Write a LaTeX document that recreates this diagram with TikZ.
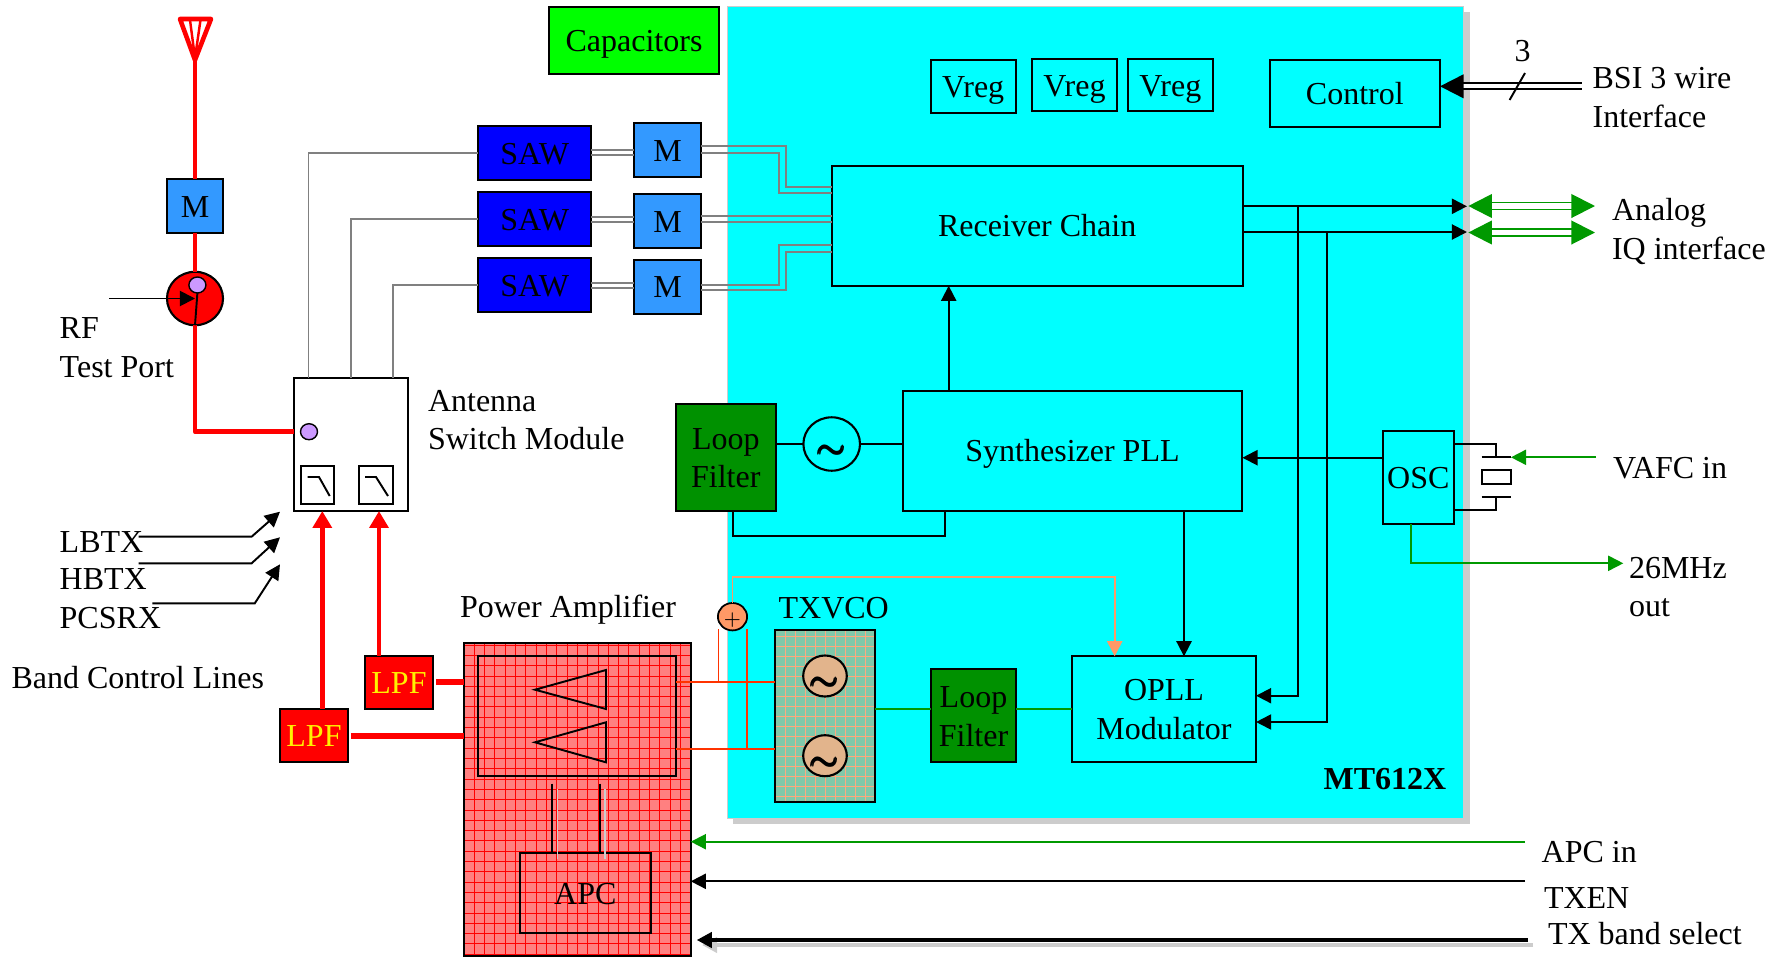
\documentclass[tikz,border=0pt]{standalone}
\usepackage{amsmath}
\usepackage{fontspec}
\setmainfont{Liberation Serif}
\usetikzlibrary{arrows.meta,calc,shapes.geometric}
\definecolor{mtcyan}{RGB}{0,255,255}
\definecolor{mtshade}{RGB}{204,204,204}
\definecolor{mblue}{RGB}{51,153,255}
\definecolor{loopgreen}{RGB}{0,145,0}
\definecolor{wiregreen}{RGB}{0,153,0}
\definecolor{wiregray}{RGB}{128,128,128}
\definecolor{dotpink}{RGB}{204,153,255}
\definecolor{papink}{RGB}{255,128,128}
\definecolor{vcoteal}{RGB}{128,200,170}
\definecolor{vcotan}{RGB}{226,180,140}
\definecolor{sumorange}{RGB}{255,153,102}
\definecolor{txred}{RGB}{255,51,0}
\tikzset{
  blockbox/.style={draw=black,line width=0.58pt,rectangle,inner sep=0pt,outer sep=0pt,align=center},
  oneline/.style={text height=6.3pt,text depth=0pt},
  twolines/.style={text height=17.2pt,text depth=0pt},
  sawbox/.style={blockbox,oneline,fill=blue,minimum width=1.134cm,minimum height=0.54cm},
  mbox/.style={blockbox,oneline,fill=mblue,minimum width=0.67cm,minimum height=0.54cm},
  lpfbox/.style={blockbox,oneline,fill=red,text=yellow,minimum width=0.68cm,minimum height=0.533cm},
  loopbox/.style={blockbox,twolines,fill=loopgreen},
  vregbox/.style={blockbox,oneline,minimum width=0.85cm,minimum height=0.526cm},
  filtbox/.style={blockbox,minimum width=0.335cm,minimum height=0.386cm},
  tune/.style={draw=black,line width=0.6pt,ellipse,inner sep=0pt,outer sep=0pt,minimum width=0.566cm,minimum height=0.534cm},
  portdot/.style={draw=black,line width=0.4pt,ellipse,fill=dotpink,inner sep=0pt,outer sep=0pt,minimum width=0.17cm,minimum height=0.16cm},
  lbl/.style={anchor=west,inner sep=0pt,outer sep=0pt,align=left},
  wire/.style={draw=black,line width=0.55pt},
  rfline/.style={draw=red,line width=1.3pt,line join=round},
  graywire/.style={draw=wiregray,line width=0.5pt},
  greenwire/.style={draw=wiregreen,line width=0.5pt},
  txwire/.style={draw=txred,line width=0.5pt},
  sumwire/.style={draw=sumorange,line width=0.55pt},
}
\newcommand{\wavetext}{\smash{\makebox[0pt]{\raisebox{-4.2pt}{\pmb{$\boldsymbol{\sim}$}}}}}
\newcommand{\sumtext}{\smash{\makebox[0pt]{\raisebox{-2.2pt}{$\scriptscriptstyle+$}}}}
\begin{document}
\begin{tikzpicture}[x=0.01cm,y=-0.01cm,font=\fontsize{9.1pt}{11pt}\selectfont,>={Triangle[length=4.3pt,width=4.3pt]}]
\useasboundingbox (0,0) rectangle (1778,957);
\node[rectangle,fill=mtshade,inner sep=0pt,minimum width=7.37cm,minimum height=8.12cm] (mtshadow) at (1101.5,418) {};
\node[rectangle,draw=mtshade,line width=0.35pt,fill=mtcyan,inner sep=0pt,minimum width=7.355cm,minimum height=8.11cm] (mt) at (1095.7,412.5) {};
\node[font=\bfseries\fontsize{9.1pt}{11pt}\selectfont,inner sep=0pt] (mtname) at (1385,779) {MT612X};

\node[blockbox,oneline,fill=green,minimum width=1.695cm,minimum height=0.664cm] (caps) at (634,40.5) {Capacitors};
\node[vregbox] (vrega) at (973.2,86.6) {Vreg};
\node[vregbox] (vregb) at (1074.5,85) {Vreg};
\node[vregbox] (vregc) at (1170.3,85) {Vreg};
\node[blockbox,oneline,minimum width=1.703cm,minimum height=0.667cm] (ctrl) at (1354.8,93.7) {Control};
\node[blockbox,oneline,minimum width=4.104cm,minimum height=1.197cm] (rx) at (1037.2,225.9) {Receiver Chain};
\node[blockbox,oneline,minimum width=3.396cm,minimum height=1.197cm] (synth) at (1072.5,450.9) {Synthesizer PLL};
\node[blockbox,twolines,minimum width=1.84cm,minimum height=1.057cm] (opll) at (1164,709.2) {OPLL\\Modulator};
\node[blockbox,oneline,minimum width=0.713cm,minimum height=0.933cm] (osc) at (1418.3,477.7) {OSC};
\node[loopbox,minimum width=0.997cm,minimum height=1.07cm] (lfa) at (725.8,457.5) {Loop\\Filter};
\node[loopbox,minimum width=0.857cm,minimum height=0.93cm] (lfb) at (973.5,715.8) {Loop\\Filter};
\node[tune] (vco) at (831.7,444) {\wavetext};

\node[blockbox,fill=vcoteal,minimum width=1cm,minimum height=1.726cm,
  path picture={\draw[sumorange!85!white,line width=0.15pt,step=0.1cm] (path picture bounding box.south west) grid (path picture bounding box.north east);}] (txvco) at (825,716) {};
\node[tune,fill=vcotan,minimum width=0.436cm,minimum height=0.41cm] (vcoa) at (825,676) {\wavetext};
\node[tune,fill=vcotan,minimum width=0.436cm,minimum height=0.41cm] (vcob) at (825,755.7) {\wavetext};
\node[lbl,anchor=center] (txvconame) at (833.7,607.8) {TXVCO};
\node[tune,fill=sumorange,minimum width=0.292cm,minimum height=0.274cm,line width=0.5pt] (sum) at (732.5,616.7) {\sumtext};

\node[blockbox,fill=papink,minimum width=2.27cm,minimum height=3.13cm,
  path picture={\draw[red,line width=0.18pt,step=0.103cm] (path picture bounding box.south west) grid (path picture bounding box.north east);}] (pa) at (577.2,799.5) {};
\node[blockbox,minimum width=1.983cm,minimum height=1.194cm] (ampbox) at (577.15,716) {};
\node[blockbox,oneline,minimum width=1.313cm,minimum height=0.797cm] (apc) at (585.35,893.2) {APC};
\draw[wire] (535,689.7) -- (606,670) -- (606,709) -- cycle;
\draw[wire] (535,742.3) -- (606,722.3) -- (606,762.3) -- cycle;
\draw[wire] (ampbox.south -| 552,0) ++(0,8) -- (apc.north -| 552,0);
\draw[wire] (ampbox.south -| 599.6,0) ++(0,8) -- (apc.north -| 599.6,0);
\draw[draw=mtshade,line width=0.4pt] (557.4,789) -- (557.4,859);
\draw[draw=mtshade,line width=0.4pt] (605,789) -- (605,859);

\node[lpfbox] (lpfa) at (399,682.7) {LPF};
\node[lpfbox] (lpfb) at (314,735.7) {LPF};

\node[blockbox,fill=white,minimum width=1.137cm,minimum height=1.33cm] (asm) at (350.9,444.5) {};
\node[portdot] (asmdot) at (309,431.7) {};
\node[filtbox] (filta) at (317.3,485) {};
\node[filtbox] (filtb) at (375.8,485) {};
\draw[wire] (307.6,477) -- (319,477) -- (329.7,496);
\draw[wire] (365,477) -- (376,477) -- (388,496);

\node[sawbox] (sawa) at (534.7,153.2) {SAW};
\node[sawbox] (sawb) at (534.7,219) {SAW};
\node[sawbox] (sawc) at (534.7,285.3) {SAW};
\node[mbox] (ma) at (667.5,150) {M};
\node[mbox] (mb) at (667.5,221.2) {M};
\node[mbox] (mc) at (667.5,286.7) {M};
\node[mbox,minimum width=0.566cm,minimum height=0.537cm] (mant) at (195,206) {M};
\node[tune,fill=red,minimum width=0.56cm,minimum height=0.534cm] (tport) at (195,298.5) {};

\draw[rfline] (180,19) -- (211,19) -- (195,60) -- cycle;
\draw[draw=red,line width=0.7pt] (190,20) -- (195,58) -- (200.5,20);
\coordinate (ant) at (195,60);
\draw[rfline] (ant) -- (mant.north);
\draw[rfline] (mant.south) -- (tport.north);
\draw[rfline] (tport.south) |- (asm.west |- asmdot);
\coordinate (rftest) at (109,298.5);
\draw[wire,->] (rftest) -- (tport.center);
\node[portdot] (tportdot) at (197.4,285) {};
\draw[wire] (tportdot.south) -- (tport.south);

\draw[graywire] (asm.north) ++(-42.4,0) |- (sawa.west);
\draw[graywire] (asm.north) |- (sawb.west);
\draw[graywire] (asm.north) ++(42.4,0) |- (sawc.west);
\draw[graywire,line width=0.6pt] (sawa.east |- 0,150) -- (ma.west |- 0,150);
\draw[graywire,line width=0.6pt] (sawa.east |- 0,155) -- (ma.west |- 0,155);
\draw[graywire,line width=0.6pt] (sawb.east |- 0,216.7) -- (mb.west |- 0,216.7);
\draw[graywire,line width=0.6pt] (sawb.east |- 0,221.7) -- (mb.west |- 0,221.7);
\draw[graywire,line width=0.6pt] (sawc.east |- 0,282.7) -- (mc.west |- 0,282.7);
\draw[graywire,line width=0.6pt] (sawc.east |- 0,287.7) -- (mc.west |- 0,287.7);
\draw[graywire] (ma.east |- 0,145.7) -| (786,186.7) -- (rx.west |- 0,186.7);
\draw[graywire] (ma.east |- 0,152.7) -| (778.7,192.7) -- (rx.west |- 0,192.7);
\draw[graywire,line width=0.6pt] (mb.east |- 0,216.3) -- (rx.west |- 0,216.3);
\draw[graywire,line width=0.6pt] (mb.east |- 0,221.7) -- (rx.west |- 0,221.7);
\draw[graywire] (mc.east |- 0,285) -| (778.7,245.3) -- (rx.west |- 0,245.3);
\draw[graywire] (mc.east |- 0,290.3) -| (786,251.7) -- (rx.west |- 0,251.7);

\draw[wire,->] (synth.north -| 948.7,0) -- (rx.south -| 948.7,0);
\draw[wire] (lfa.east |- vco) -- (vco.west);
\draw[wire] (vco.east) -- (synth.west |- vco);
\draw[wire] (lfa.south -| 732.7,0) |- (945,536) -- (synth.south -| 945,0);
\draw[wire,->] (synth.south -| 1184,0) -- (opll.north -| 1184,0);
\draw[wire,->] (osc.west |- 0,457.7) -- (synth.east |- 0,457.7);

\coordinate (iqa) at (1467,206.3);
\coordinate (iqb) at (1467,232);
\coordinate (tapa) at (1298.3,206.3);
\coordinate (tapb) at (1326.7,232);
\draw[wire,->] (rx.east |- iqa) -- (iqa);
\draw[wire,->] (rx.east |- iqb) -- (iqb);
\draw[wire,->] (tapa) |- (opll.east |- 0,695.7);
\draw[wire,->] (tapb) |- (opll.east |- 0,722);

\coordinate (iqouta) at (1595,206);
\coordinate (iqoutb) at (1595,232.5);
\coordinate (iqina) at (1468.3,206);
\coordinate (iqinb) at (1468.3,232.5);
\draw[draw=wiregreen,line width=0.55pt,double=white,double distance=1.45pt,{Triangle[length=6.7pt,width=6.7pt]}-{Triangle[length=6.7pt,width=6.7pt]}] (iqina) -- (iqouta);
\draw[draw=wiregreen,line width=0.55pt,double=white,double distance=1.45pt,{Triangle[length=6.7pt,width=6.7pt]}-{Triangle[length=6.7pt,width=6.7pt]}] (iqinb) -- (iqoutb);

\coordinate (bsi) at (1581.5,86.3);
\draw[draw=black,line width=0.55pt,double=white,double distance=1.15pt,-{Triangle[length=6.7pt,width=6.7pt]}] (bsi) -- (ctrl.east |- bsi);
\draw[wire] (1509.6,100) -- (1525,73);

\node[blockbox,minimum width=0.293cm,minimum height=0.137cm,line width=0.5pt] (xtal) at (1496.3,477.2) {};
\draw[wire] (xtal.west |- 0,457.3) -- (xtal.east |- 0,457.3);
\draw[wire] (xtal.west |- 0,497) -- (xtal.east |- 0,497);
\draw[wire] (osc.east |- 0,444) -| (xtal.north |- 0,457.3);
\draw[wire] (osc.east |- 0,510.3) -| (xtal.south |- 0,497);
\coordinate (vafc) at (1596,457.3);
\draw[greenwire,->] (vafc) -- (xtal.east |- vafc);
\coordinate (refout) at (1623.3,563.3);
\draw[greenwire,->] (osc.south -| 1411,0) |- (refout);

\draw[sumwire,->] (sum.north) |- (1114.7,576.7) -- (opll.north -| 1114.7,0);
\draw[txwire] (ampbox.east |- 0,682.3) -- (txvco.west |- 0,682.3);
\draw[txwire] (ampbox.east |- 0,749) -- (txvco.west |- 0,749);
\draw[txwire] (718.6,629.3) -- (718.6,682.3);
\draw[txwire] (746.8,629.3) -- (746.8,749);
\draw[greenwire,line width=0.6pt] (txvco.east |- 0,708.7) -- (lfb.west |- 0,708.7);
\draw[greenwire,line width=0.6pt] (lfb.east |- 0,708.7) -- (opll.west |- 0,708.7);

\draw[rfline,line width=1.7pt] (436,682.3) -- (pa.west |- 0,682.3);
\draw[rfline,line width=1.7pt] (350.8,735.7) -- (pa.west |- 0,735.7);
\draw[rfline,-{Triangle[length=4.8pt,width=5.3pt]}] (lpfa.north -| 379,0) -- (asm.south -| 379,0);
\draw[rfline,-{Triangle[length=4.8pt,width=5.3pt]}] (lpfb.north -| 322.3,0) -- (asm.south -| 322.3,0);

\coordinate (lbtx) at (138.7,536.7);
\coordinate (hbtx) at (138.7,563.3);
\coordinate (pcsrx) at (152.4,603.3);
\draw[wire,->] (lbtx) -- (251.6,536.7) -- (280,511.7);
\draw[wire,->] (hbtx) -- (251.6,563.3) -- (280,537.3);
\draw[wire,->] (pcsrx) -- (254.8,603.3) -- (280,564.3);

\coordinate (apcin) at (1525,841.7);
\coordinate (txen) at (1525,881.3);
\coordinate (bandsel) at (1528,940);
\draw[greenwire,->] (apcin) -- (pa.east |- apcin);
\draw[wire,->] (txen) -- (pa.east |- txen);
\draw[draw=mtshade,line width=1.14pt,-{Triangle[length=4.3pt,width=4.3pt]}] (1533,945) -- (702,945);
\draw[draw=black,line width=1.14pt,-{Triangle[length=4.3pt,width=4.3pt]}] (bandsel) -- (696.7,940);

\node[inner sep=0pt] (busnum) at (1522.5,50.7) {3};
\node[lbl] (bsiname) at (1592.6,97.6) {BSI 3 wire\\Interface};
\node[lbl] (iqname) at (1612,231.8) {Analog\\IQ interface};
\node[lbl] (vafcname) at (1613,468) {VAFC in};
\node[lbl] (outname) at (1629,587) {26MHz\\out};
\node[lbl] (rfname) at (59.7,348) {RF\\Test Port};
\node[lbl] (asmname) at (428,420) {Antenna\\Switch Module};
\node[lbl] (paname) at (460,610) {Power Amplifier};
\node[lbl] (lbtxname) at (59.7,542) {LBTX};
\node[lbl] (hbtxname) at (59.7,579) {HBTX};
\node[lbl] (pcsrxname) at (59.7,618.4) {PCSRX};
\node[lbl] (bandname) at (11.5,677.8) {Band Control Lines};
\node[lbl] (apcinname) at (1541.7,852) {APC in};
\node[lbl] (txenname) at (1544,898) {TXEN};
\node[lbl] (bandselname) at (1548,934) {TX band select};
\end{tikzpicture}
\end{document}
